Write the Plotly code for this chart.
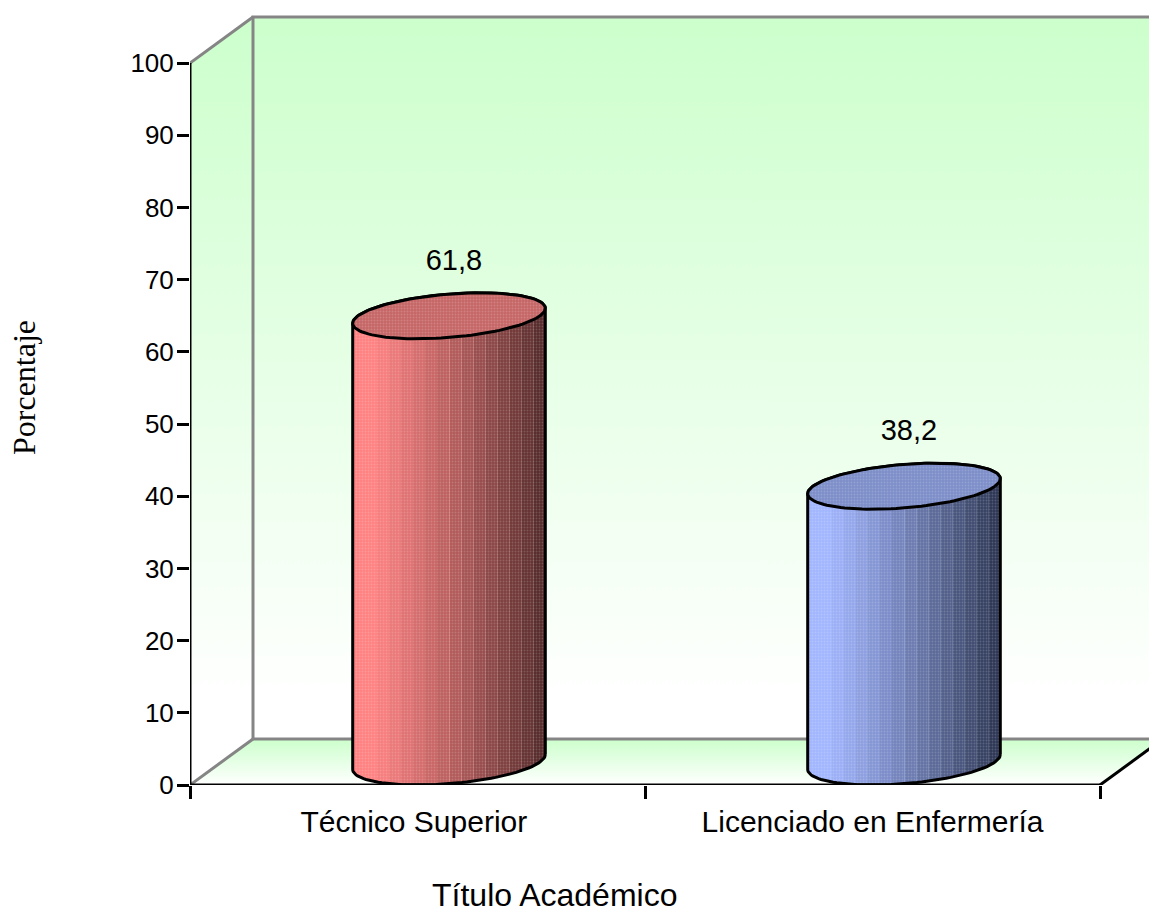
import numpy as np
import plotly.graph_objects as go

categories = ["Técnico Superior", "Licenciado en Enfermería"]
values = [61.8, 38.2]
y_ticks = list(range(0, 101, 10))
x_title = "Título Académico"
y_title = "Porcentaje"

# layout constants (pixels -> axis units)
PX_X = 455.0
PX_Y = 7.22
L, R, T, B = 190, 0, 10, 127
AXIS_Y = 912 - B
X0 = -0.5
X1 = X0 + (1149 - L) / PX_X
Y1 = (912 - B - T) / PX_Y
DX = 63 / PX_X      # depth offset of the back wall
DY = 46 / PX_Y
HALF_W = 0.2
SANS = "Liberation Sans"
SERIF = "Liberation Serif"
GRAY = "#858585"
GREEN = "#CCFFCC"

fig = go.Figure()


def poly(xs, ys, **kw):
    kw.setdefault("mode", "lines")
    kw.setdefault("hoverinfo", "skip")
    kw.setdefault("showlegend", False)
    fig.add_trace(go.Scatter(x=xs, y=ys, **kw))


def vgrad(start, stop, stops):
    return dict(type="vertical", start=start, stop=stop, colorscale=stops)


wall_scale = [[0, GREEN], [0.95, "#FFFFFF"], [1, "#FFFFFF"]]
top = 100 + DY
# side wall
poly([X0, X0 + DX, X0 + DX, X0, X0], [0, DY, top, 100, 0], fill="toself",
     line=dict(width=0), fillgradient=vgrad(top, DY, wall_scale))
# back wall
poly([X0 + DX, X1 + 1, X1 + 1, X0 + DX, X0 + DX], [DY, DY, top, top, DY], fill="toself",
     line=dict(width=0), fillgradient=vgrad(top, DY, wall_scale))
# floor
poly([X0, 1.5, 1.5 + DX, X0 + DX, X0], [0, 0, DY, DY, 0], fill="toself",
     line=dict(width=0), fillgradient=vgrad(DY, 0, [[0, GREEN], [1, "#FFFFFF"]]))
# wall edges
poly([X1 + 1, X0 + DX, X0 + DX, X1 + 1], [top, top, DY, DY], line=dict(color=GRAY, width=3))
poly([X0, X0 + DX], [100, top], line=dict(color=GRAY, width=3))
poly([X0, X0 + DX], [0, DY], line=dict(color=GRAY, width=3))
poly([1.5, 1.5 + DX], [0, DY], line=dict(color="black", width=3))


def stripes(light, dark, n=16):
    out = []
    for i in range(n):
        f = max(0.0, (i - 1) / (n - 2)) ** 1.1
        c = [round(a + (b - a) * f) for a, b in zip(light, dark)]
        col = f"rgb({c[0]},{c[1]},{c[2]})"
        a, b = i / n, (i + 1) / n
        if i >= n // 2:
            # thin paler seam at the left of each darker band
            pale = [min(255, x + 30) for x in c]
            pale_col = f"rgb({pale[0]},{pale[1]},{pale[2]})"
            out += [[a, pale_col], [a + 0.005, pale_col], [a + 0.005, col], [b, col]]
        else:
            out += [[a, col], [b, col]]
    return out


def ellipse(cx, cy, t):
    return (cx + HALF_W * np.cos(t) + DX / 2 * np.sin(t), cy + DY / 2 * np.sin(t))


styles = [
    dict(light=(255, 130, 130), dark=(88, 44, 44), cap="#C66666"),
    dict(light=(162, 182, 255), dark=(46, 56, 86), cap="#7C8EC8"),
]
t0 = np.arctan2(DX / 2, HALF_W)
DOTS = dict(shape=".", size=3, solidity=0.3, fgcolor="rgba(255,255,255,0.35)", bgcolor="rgba(0,0,0,0)", fillmode="overlay")

for i, (v, st) in enumerate(zip(values, styles)):
    cx = i + DX / 2
    lower = np.linspace(t0, t0 - np.pi, 60)
    upper = np.linspace(t0 + np.pi, t0, 60)
    bx, by = ellipse(cx, DY / 2, lower)
    tx, ty = ellipse(cx, v + DY / 2, upper)
    xs = np.r_[bx, tx, bx[0]]
    ys = np.r_[by, ty, by[0]]
    poly(xs, ys, fill="toself", line=dict(width=0),
         fillgradient=dict(type="horizontal", start=float(xs.min()), stop=float(xs.max()),
                           colorscale=stripes(st["light"], st["dark"])))
    poly(xs, ys, fill="toself", line=dict(width=0), fillcolor="rgba(0,0,0,0)", fillpattern=DOTS)
    poly(xs, ys, line=dict(color="black", width=3), cliponaxis=False)
    full = np.linspace(0, 2 * np.pi, 120)
    ex, ey = ellipse(cx, v + DY / 2, full)
    poly(ex, ey, fill="toself", fillcolor=st["cap"], line=dict(width=0))
    poly(ex, ey, fill="toself", line=dict(width=0), fillcolor="rgba(0,0,0,0)", fillpattern=DOTS)
    poly(ex, ey, line=dict(color="black", width=3), cliponaxis=False)

# axis lines
poly([X0, X0, 1.5], [100, 0, 0], line=dict(color="black", width=3), cliponaxis=False)

# data labels
fig.add_trace(go.Scatter(
    x=[i + 0.08 for i in range(len(values))],
    y=[v + 10.55 for v in values],
    mode="text",
    text=[f"{v:.1f}".replace(".", ",") for v in values],
    textposition="middle center",
    textfont=dict(family=SANS, size=29, color="black"),
    hoverinfo="skip", showlegend=False, cliponaxis=False,
))

fig.update_layout(
    width=1149, height=912,
    margin=dict(l=L, r=R, t=T, b=B, pad=0),
    paper_bgcolor="white", plot_bgcolor="white",
    showlegend=False,
    xaxis=dict(
        range=[X0, X1], showgrid=False, zeroline=False, showline=False,
        tickmode="array", tickvals=[-0.008, 1], ticktext=categories,
        ticks="outside", ticklen=10, tickcolor="rgba(0,0,0,0)", tickwidth=1,
        tickfont=dict(family=SANS, size=30, color="black"),
        minor=dict(tickmode="array", tickvals=[-0.5, 0.5, 1.5], ticks="outside", ticklen=13,
                   tickwidth=3, tickcolor="black", showgrid=False),
    ),
    yaxis=dict(
        range=[0, Y1], showgrid=False, zeroline=False, showline=False,
        tickmode="array", tickvals=y_ticks, ticktext=[str(t) for t in y_ticks],
        ticks="outside", ticklen=12, tickwidth=3, tickcolor="black", ticklabelstandoff=-2,
        tickfont=dict(family=SANS, size=26, color="black"),
    ),
    annotations=[
        dict(text=x_title, xref="paper", yref="paper", x=(554 - L) / (1149 - L), y=-(895 - AXIS_Y) / (AXIS_Y - T),
             xanchor="center", yanchor="middle", showarrow=False,
             font=dict(family=SANS, size=32, color="black")),
        dict(text=y_title, xref="paper", yref="paper", x=-(190 - 24) / (1149 - L), y=(AXIS_Y - 388) / (AXIS_Y - T),
             xanchor="center", yanchor="middle", showarrow=False, textangle=-90,
             font=dict(family=SERIF, size=32, color="black")),
    ],
)

fig.write_html("out.html", post_script="document.body.style.margin='0';document.documentElement.style.overflow='hidden';",
               config=dict(displayModeBar=False))
